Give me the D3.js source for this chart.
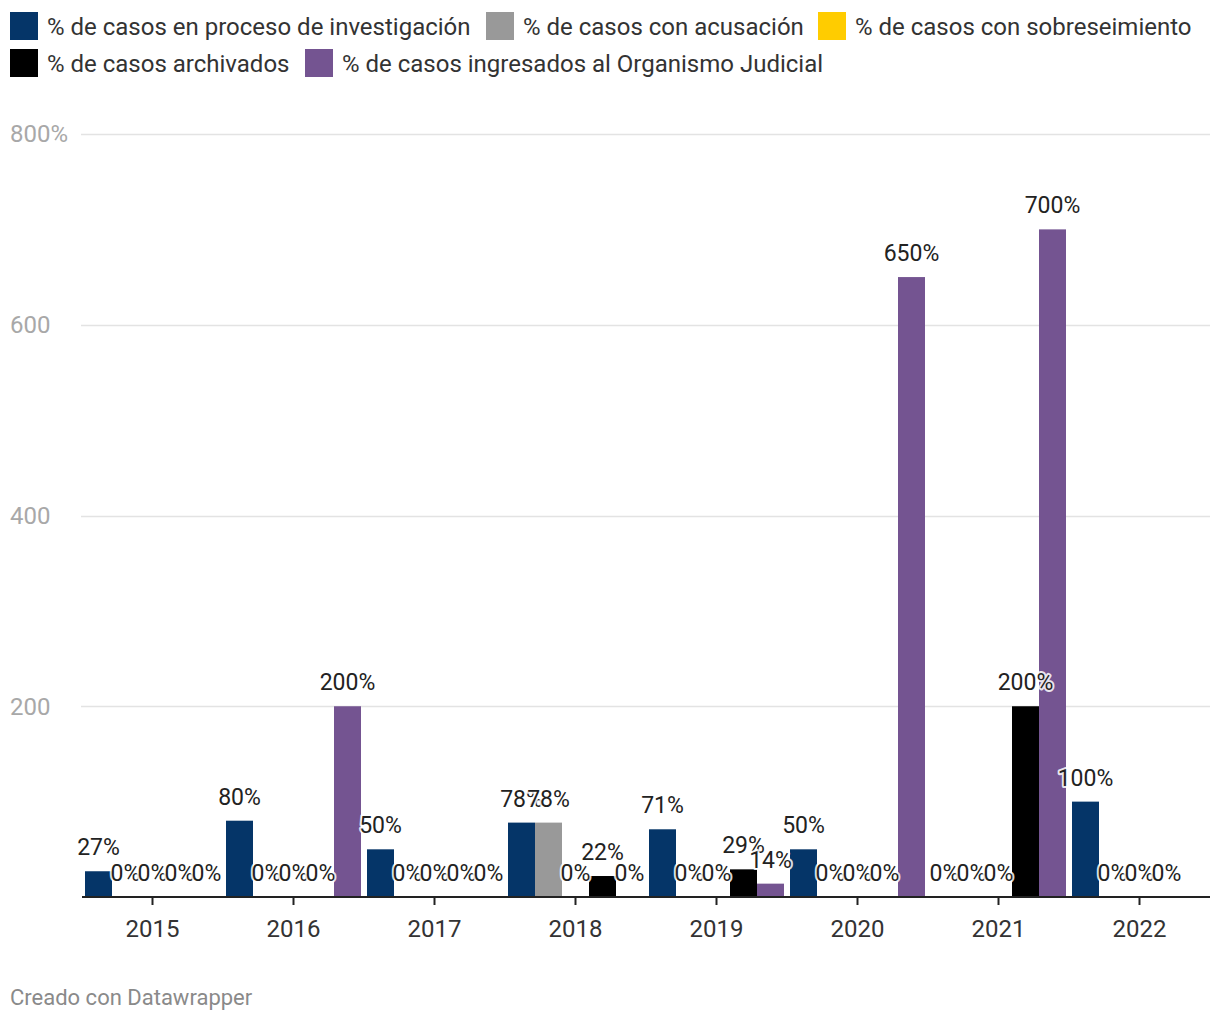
<!DOCTYPE html>
<html><head><meta charset="utf-8">
<script src="https://cdn.jsdelivr.net/npm/d3@7"></script>
<style>
body{margin:0;background:#fff;font-family:Roboto,"Noto Sans",sans-serif;}
svg{display:block}
</style></head><body>
<svg id="chart" width="1220" height="1020"></svg>
<script>
const years = ["2015","2016","2017","2018","2019","2020","2021","2022"];
const seriesNames = [
  "% de casos en proceso de investigación",
  "% de casos con acusación",
  "% de casos con sobreseimiento",
  "% de casos archivados",
  "% de casos ingresados al Organismo Judicial"
];
const seriesColors = ["#053568","#999999","#ffcc00","#000000","#745491"];
const investigacion = [27, 80, 50, 78, 71, 50, 0, 100];
const acusacion     = [0, 0, 0, 78, 0, 0, 0, 0];
const sobreseimiento= [0, 0, 0, 0, 0, 0, 0, 0];
const archivados    = [0, 0, 0, 22, 29, 0, 200, 0];
const ingresados    = [0, 200, 0, 0, 14, 650, 700, null];
const yTicks = [200, 400, 600, 800];
const yTickLabels = ["200", "400", "600", "800%"];

const allSeries = [investigacion, acusacion, sobreseimiento, archivados, ingresados];

const svg = d3.select("#chart");

// Legend
const legendRows = [
  [{i:0,x:10},{i:1,x:486},{i:2,x:818}],
  [{i:3,x:10},{i:4,x:305}]
];
legendRows.forEach((row, r) => {
  const y = 12 + r*37;
  row.forEach(it => {
    svg.append("rect").attr("x", it.x).attr("y", y).attr("width", 28).attr("height", 28)
      .attr("fill", seriesColors[it.i]);
    svg.append("text").attr("x", it.x + 37).attr("y", y + 22.5)
      .attr("font-size", 24).attr("fill", "#333").text(seriesNames[it.i]);
  });
});

const x0 = d3.scaleBand().domain(years).range([82, 1210]).paddingInner(0).paddingOuter(0);
const x1 = d3.scaleBand().domain(d3.range(5)).range([3, x0.bandwidth() - 3]).padding(0);
const y = d3.scaleLinear().domain([0, 800]).range([897, 134]);

// grid
const grid = svg.append("g");
yTicks.forEach((t, k) => {
  grid.append("line").attr("x1", 81).attr("x2", 1210).attr("y1", Math.round(y(t)) + 0.5).attr("y2", Math.round(y(t)) + 0.5)
    .attr("stroke", "#e3e3e3").attr("stroke-width", 1.5);
  grid.append("text").attr("x", 10).attr("y", y(t)).attr("dy", "0.35em")
    .attr("font-size", 24).attr("fill", "#a8a8a8").text(yTickLabels[k]);
});

// bars
const groups = svg.append("g").selectAll("g").data(years).join("g")
  .attr("transform", d => `translate(${x0(d)},0)`);
groups.selectAll("rect")
  .data((d, gi) => allSeries.map((s, si) => ({si, v: s[gi]})).filter(d => d.v !== null))
  .join("rect")
  .attr("x", d => x1(d.si)).attr("width", x1.bandwidth())
  .attr("y", d => y(d.v)).attr("height", d => y(0) - y(d.v))
  .attr("fill", d => seriesColors[d.si]);

// x axis
const xAxis = svg.append("g").attr("transform", "translate(0,897)")
  .call(d3.axisBottom(x0).tickSize(8).tickSizeOuter(0));
xAxis.select(".domain").attr("stroke", "#222").attr("stroke-width", 2).attr("d", "M82,0H1210");
xAxis.selectAll(".tick line").attr("stroke", "#222").attr("stroke-width", 2);
xAxis.selectAll(".tick text").attr("font-size", 24).attr("fill", "#333")
  .attr("font-family", "Roboto").attr("y", 23).attr("dy", "0.71em");

// labels
const labelG = svg.append("g");
years.forEach((yr, gi) => {
  allSeries.forEach((s, si) => {
    if (s[gi] === null) return;
    labelG.append("text")
      .attr("x", x0(yr) + x1(si) + x1.bandwidth()/2)
      .attr("y", y(s[gi]) - 16)
      .attr("text-anchor", "middle")
      .attr("font-size", 23).attr("fill", "#222")
      .attr("stroke", "#fff").attr("stroke-width", 4).attr("stroke-linejoin", "round")
      .attr("stroke-opacity", 0.85)
      .attr("paint-order", "stroke")
      .text(s[gi] + "%");
  });
});

svg.append("text").attr("x", 10).attr("y", 1005).attr("font-size", 22).attr("fill", "#8a8a8a")
  .text("Creado con Datawrapper");
</script>
</body></html>
